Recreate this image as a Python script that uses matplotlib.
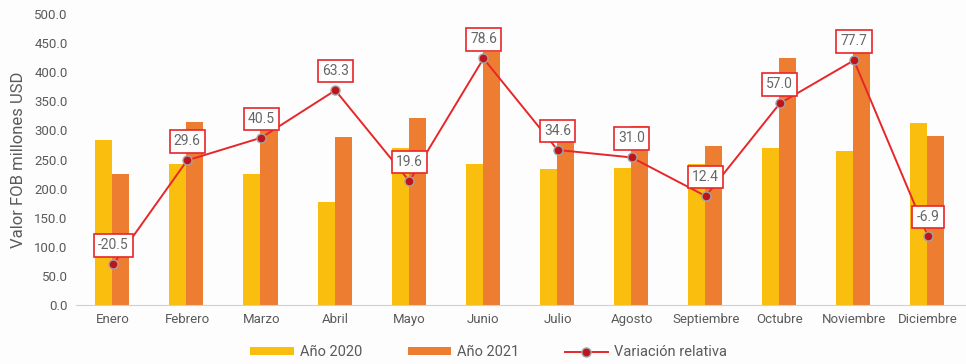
import matplotlib
matplotlib.use("Agg")
import matplotlib.pyplot as plt
import numpy as np
from matplotlib.lines import Line2D
from matplotlib.patches import Patch

plt.rcParams['font.family'] = ['Roboto', 'DejaVu Sans']

meses = ["Enero", "Febrero", "Marzo", "Abril", "Mayo", "Junio", "Julio",
         "Agosto", "Septiembre", "Octubre", "Noviembre", "Diciembre"]
anio_2020 = [283, 243, 225, 177, 269, 243, 234, 235, 243, 270, 265, 312]
anio_2021 = [225, 315, 316, 289, 322, 434, 315, 308, 273, 424, 471, 290]
variacion = [-20.5, 29.6, 40.5, 63.3, 19.6, 78.6, 34.6, 31.0, 12.4, 57.0, 77.7, -6.9]
yticks = [0, 50, 100, 150, 200, 250, 300, 350, 400, 450, 500]

c2020 = "#F9BE0E"
c2021 = "#ED7D31"
cline = "#E8262A"
cmark = "#C0141C"
tcol = "#5A5A5A"
bg = "#FCFDFC"

fig = plt.figure(figsize=(9.66, 3.64), dpi=100, facecolor=bg)
ax = fig.add_axes([0.0787, 0.162, 0.9203, 0.7995])
ax.set_facecolor(bg)
x = np.arange(len(meses))
w = 0.23
ax.bar(x - 0.125, anio_2020, width=w, color=c2020, zorder=2)
ax.bar(x + 0.105, anio_2021, width=w, color=c2021, zorder=2)
ax.set_xlim(-0.5, 11.5)
ax.set_ylim(0, 500)
ax.set_yticks(yticks)
ax.set_yticklabels([f"{v:.1f}" for v in yticks], fontsize=9.5, color=tcol)
ax.set_xticks(x)
ax.set_xticklabels(meses, fontsize=9.5, color=tcol)
ax.tick_params(axis='both', length=0, pad=6)
for s in ["top", "right", "left"]:
    ax.spines[s].set_visible(False)
ax.spines["bottom"].set_color("#D0D0D0")
ax.set_ylabel("Valor FOB millones USD", fontsize=12, color=tcol, labelpad=6)

ax2 = ax.twinx()
ax2.set_ylim(-40, 100)
ax2.axis('off')
ax2.plot(x, variacion, color=cline, lw=1.4, marker='o', markersize=6.5,
         markerfacecolor=cmark, markeredgecolor="#A3A3A3", markeredgewidth=1.0, zorder=3)
for xi, v in zip(x, variacion):
    ax2.annotate(f"{v:.1f}", (xi, v), xytext=(0, 19), textcoords='offset pixels',
                 ha='center', va='center', fontsize=10, color="#666666",
                 bbox=dict(boxstyle='square,pad=0.3', facecolor='white', edgecolor=cline, lw=1.2),
                 zorder=5)

handles = [Patch(facecolor=c2020, edgecolor='none'),
           Patch(facecolor=c2021, edgecolor='none'),
           Line2D([0], [0], color=cline, lw=1.4, marker='o', markersize=6.5,
                  markerfacecolor=cmark, markeredgecolor="#A3A3A3")]
leg = fig.legend(handles, ["Año 2020", "Año 2021", "Variación relativa"],
                 loc='center', bbox_to_anchor=(0.506, 0.032), ncol=3, frameon=False,
                 fontsize=10.5, handlelength=3.0, handleheight=0.5, columnspacing=3.1,
                 handletextpad=0.4)
for t in leg.get_texts():
    t.set_color(tcol)

fig.savefig("out.png", dpi=100, facecolor=bg)
